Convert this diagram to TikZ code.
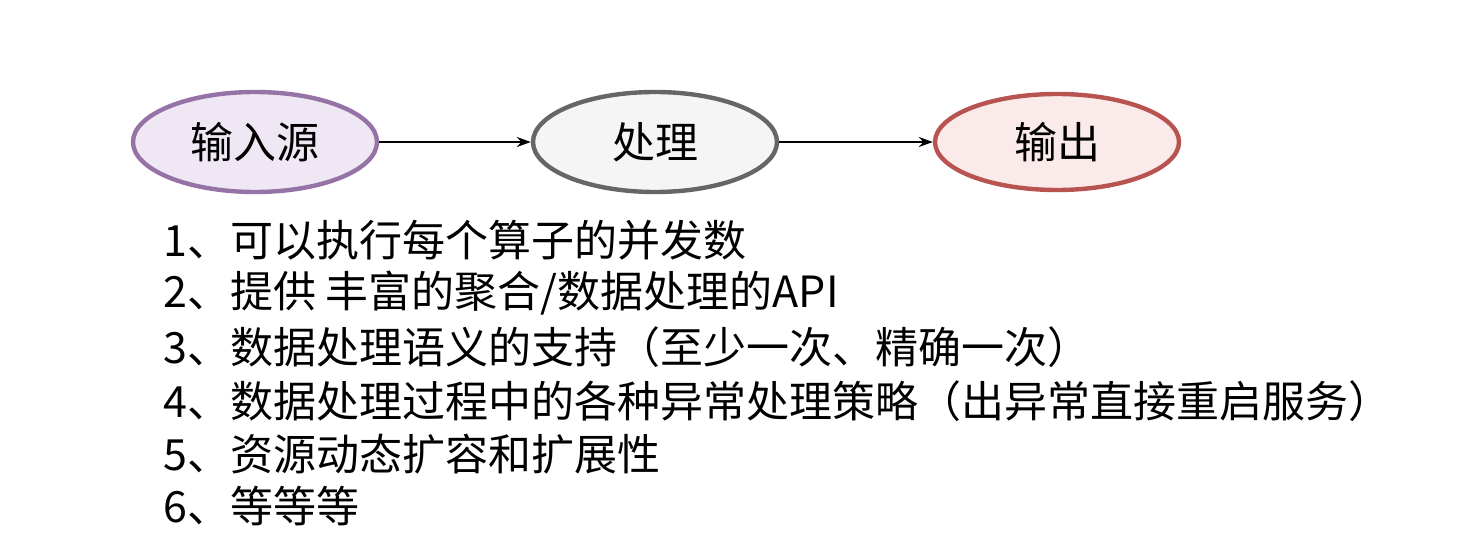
\documentclass[tikz,border=0pt]{standalone}
\usepackage{fontspec}
\setmainfont{Noto Sans CJK SC}
\usetikzlibrary{shapes.geometric,arrows.meta}
\definecolor{pstroke}{HTML}{9673A6}\definecolor{pfill}{HTML}{EFE8F4}
\definecolor{gstroke}{HTML}{666666}\definecolor{gfill}{HTML}{F5F5F5}
\definecolor{rstroke}{HTML}{B85450}\definecolor{rfill}{HTML}{FBEAEA}
\tikzset{
  stage/.style={ellipse,line width=2.2pt,minimum width=122pt,minimum height=50pt,inner sep=0pt,font=\fontsize{21.5}{24}\selectfont},
  flow/.style={-{Stealth[length=7pt,width=5pt]},line width=0.7pt},
  item/.style={anchor=west,inner sep=0pt,font=\fontsize{21.5}{24}\selectfont}
}
\begin{document}
\begin{tikzpicture}[x=0.5pt,y=0.5pt]
\useasboundingbox (0,0) rectangle (1476,558);
\node[stage,draw=pstroke,fill=pfill] (src) at (255,416) {输入源};
\node[stage,draw=gstroke,fill=gfill] (proc) at (655,416) {处理};
\node[stage,draw=rstroke,fill=rfill,minimum height=48pt] (out) at (1057,416) {输出};
\draw[flow] (src) -- (proc);
\draw[flow] (proc) -- (out);
\node[item] (l1) at (163,318) {1、可以执行每个算子的并发数};
\node[item] (l2) at (163,265) {2、提供 丰富的聚合/数据处理的API};
\node[item] (l3) at (163,211) {3、数据处理语义的支持（至少一次、精确一次）};
\node[item] (l4) at (163,157) {4、数据处理过程中的各种异常处理策略（出异常直接重启服务）};
\node[item] (l5) at (163,104) {5、资源动态扩容和扩展性};
\node[item] (l6) at (163,52) {6、等等等};
\end{tikzpicture}
\end{document}
